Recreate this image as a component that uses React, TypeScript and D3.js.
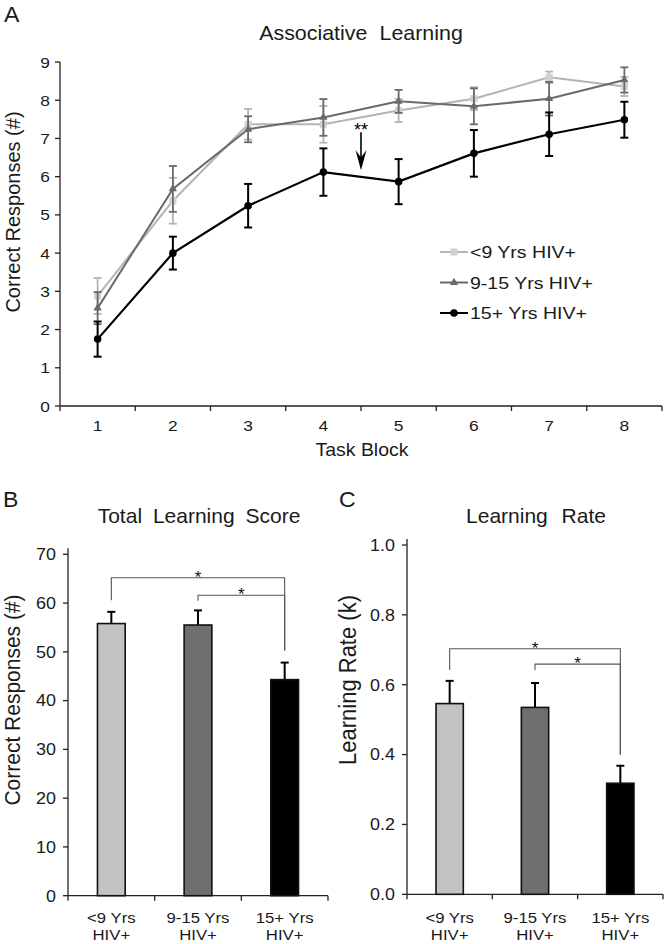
import React from 'react';
import * as d3 from 'd3';

const blocks = [1, 2, 3, 4, 5, 6, 7, 8];
const yTicksA = [0, 1, 2, 3, 4, 5, 6, 7, 8, 9];
const seriesNames = ['<9 Yrs HIV+', '9-15 Yrs HIV+', '15+ Yrs HIV+'];
const lt9Mean = [2.88, 5.37, 7.37, 7.37, 7.73, 8.04, 8.6, 8.36];
const lt9Err = [0.47, 0.6, 0.4, 0.48, 0.3, 0.3, 0.15, 0.25];
const midMean = [2.56, 5.68, 7.24, 7.55, 7.97, 7.84, 8.04, 8.53];
const midErr = [0.42, 0.6, 0.34, 0.48, 0.3, 0.47, 0.44, 0.33];
const hiMean = [1.75, 4.0, 5.24, 6.12, 5.87, 6.61, 7.11, 7.49];
const hiErr = [0.46, 0.43, 0.57, 0.62, 0.59, 0.61, 0.57, 0.47];

const groups = ['<9 Yrs|HIV+', '9-15 Yrs|HIV+', '15+ Yrs|HIV+'];
const totalScore = [55.8, 55.5, 44.3];
const totalErr = [2.4, 3.0, 3.5];
const yTicksB = [0, 10, 20, 30, 40, 50, 60, 70];
const learnRate = [0.546, 0.535, 0.318];
const rateErr = [0.065, 0.07, 0.05];
const yTicksC = [0, 0.2, 0.4, 0.6, 0.8, 1.0];

// brackets: [fromGroup, toGroup, barY, leftDrop, rightDrop]
const bracketsB: [number, number, number, number, number][] = [
  [0, 2, 65.2, 60.6, 50.3],
  [1, 2, 61.6, 60.5, 50.3],
];
const bracketsC: [number, number, number, number, number][] = [
  [0, 2, 0.703, 0.642, 0.4],
  [1, 2, 0.659, 0.642, 0.4],
];

const FONT = '"Liberation Sans", Arial, sans-serif';
const barFills = ['#c3c3c3', '#6f6f6f', '#000000'];
const lineColors = ['#b4b4b4', '#6a6a6a', '#000000'];
const markerFill = ['#d0d0d0', '#6a6a6a', '#000000'];
const TXT = '#1a1a1a';

function T(props: { x: number; y: number; size: number; sx?: number; anchor?: string; dy?: string; rot?: boolean; ws?: number; children: React.ReactNode }) {
  const { x, y, size, sx = 1.1, anchor = 'start', dy, rot, ws, children } = props;
  const tr = rot ? `translate(${x},${y}) rotate(-90) scale(1,${sx})` : `translate(${x},${y}) scale(${sx},1)`;
  return (
    <text transform={tr} fontSize={size} textAnchor={anchor} dy={dy} fill={TXT} wordSpacing={ws}>{children}</text>
  );
}

function Marker({ kind, x, y }: { kind: number; x: number; y: number }) {
  if (kind === 0) return <rect x={x - 3.5} y={y - 3.5} width={7} height={7} fill={markerFill[0]} />;
  if (kind === 1) {
    const p = d3.symbol(d3.symbolTriangle, 30)();
    return <path d={p || ''} transform={`translate(${x},${y})`} fill={markerFill[1]} />;
  }
  return <circle cx={x} cy={y} r={3.8} fill="#000" />;
}

function PanelA() {
  const x = d3.scaleBand<number>().domain(blocks).range([60, 662]);
  const y = d3.scaleLinear().domain([0, 9]).range([406, 62]);
  const cx = (b: number) => (x(b) as number) + x.bandwidth() / 2;
  const means = [lt9Mean, midMean, hiMean];
  const errs = [lt9Err, midErr, hiErr];
  const line = d3.line<number>().x((_, i) => cx(blocks[i])).y((d) => y(d));
  const arrowX = (x(5) as number);
  return (
    <g fontFamily={FONT}>
      <T x={4} y={22} size={22} sx={1.05}>A</T>
      <T x={361} y={40} size={21} sx={1.02} anchor="middle" ws={6}>Associative Learning</T>
      <line x1={60} x2={60} y1={62} y2={406} stroke="#222" strokeWidth={1.3} />
      <line x1={60} x2={662} y1={406} y2={406} stroke="#222" strokeWidth={1.3} />
      {yTicksA.map((t) => (
        <g key={t}>
          <line x1={55} x2={60} y1={y(t)} y2={y(t)} stroke="#222" strokeWidth={1.3} />
          <T x={50} y={y(t)} dy="0.36em" size={15.5} sx={1.12} anchor="end">{t}</T>
        </g>
      ))}
      {blocks.map((b) => (
        <g key={b}>
          <line x1={x(b)} x2={x(b)} y1={406} y2={411} stroke="#222" strokeWidth={1.3} />
          <T x={cx(b)} y={431} size={15.5} sx={1.12} anchor="middle">{b}</T>
        </g>
      ))}
      <line x1={662} x2={662} y1={406} y2={411} stroke="#222" strokeWidth={1.3} />
      <T x={362} y={456} size={18} sx={1.08} anchor="middle">Task Block</T>
      <T x={12} y={212} size={20} sx={1.05} rot anchor="middle" dy="0.36em">Correct Responses (#)</T>
      {means.map((m, s) => (
        <g key={s}>
          {m.map((v, i) => {
            const px = cx(blocks[i]);
            const e = errs[s][i];
            const sw = s === 2 ? 2 : 1.8;
            return (
              <g key={i} stroke={lineColors[s]} strokeWidth={sw}>
                <line x1={px} x2={px} y1={y(v - e)} y2={y(v + e)} />
                <line x1={px - 4} x2={px + 4} y1={y(v - e)} y2={y(v - e)} />
                <line x1={px - 4} x2={px + 4} y1={y(v + e)} y2={y(v + e)} />
              </g>
            );
          })}
          <path d={line(m) || ''} fill="none" stroke={lineColors[s]} strokeWidth={s === 2 ? 2.2 : 2} />
          {m.map((v, i) => <Marker key={i} kind={s} x={cx(blocks[i])} y={y(v)} />)}
        </g>
      ))}
      <text x={arrowX} y={y(7.33) + 10} fontSize={18} textAnchor="middle" fill="#000">**</text>
      <line x1={arrowX} x2={arrowX} y1={y(7.16)} y2={y(6.25)} stroke="#000" strokeWidth={1.6} />
      <path d={`M${arrowX - 5.5},${y(6.7)} L${arrowX},${y(6.17)} L${arrowX + 5.5},${y(6.7)} L${arrowX},${y(6.5)} Z`} fill="#000" />
      {seriesNames.map((n, s) => {
        const ly = 252 + s * 30.5;
        return (
          <g key={n}>
            <line x1={440} x2={468} y1={ly} y2={ly} stroke={lineColors[s]} strokeWidth={2} />
            <Marker kind={s} x={454} y={ly} />
            <T x={470} y={ly} dy="0.36em" size={17} sx={1.15}>{n}</T>
          </g>
        );
      })}
    </g>
  );
}

function BarPanel(props: {
  label: string; lx: number; title: string; tx: number; tws: number; x0: number; x1: number;
  yTop: number; yBot: number; domainMax: number; ticks: number[]; fmt: (v: number) => string;
  values: number[]; errs: number[]; brackets: [number, number, number, number, number][];
  ylabel: string; ylx: number; yly: number; ylsize: number;
}) {
  const { label, lx, title, tx, tws, x0, x1, yTop, yBot, domainMax, ticks, fmt, values, errs, brackets, ylabel, ylx, yly, ylsize } = props;
  const x = d3.scaleBand<string>().domain(groups).range([x0, x1]);
  const y = d3.scaleLinear().domain([0, domainMax]).range([yBot, yTop]);
  const cx = (g: string) => (x(g) as number) + x.bandwidth() / 2;
  const bw = x.bandwidth() * 0.32;
  return (
    <g fontFamily={FONT}>
      <T x={lx} y={507} size={22} sx={1.05}>{label}</T>
      <T x={tx} y={523} size={21} sx={1.0} anchor="middle" ws={tws}>{title}</T>
      <line x1={x0} x2={x0} y1={yTop - 6} y2={yBot} stroke="#222" strokeWidth={1.3} />
      <line x1={x0} x2={x1} y1={yBot} y2={yBot} stroke="#222" strokeWidth={1.3} />
      {ticks.map((t) => (
        <g key={t}>
          <line x1={x0 - 5} x2={x0} y1={y(t)} y2={y(t)} stroke="#222" strokeWidth={1.3} />
          <T x={x0 - 12} y={y(t)} dy="0.36em" size={16.3} sx={1.1} anchor="end">{fmt(t)}</T>
        </g>
      ))}
      {[...groups.map((g) => x(g) as number), x1].map((p, i) => (
        <line key={i} x1={p} x2={p} y1={yBot} y2={yBot + 5} stroke="#222" strokeWidth={1.3} />
      ))}
      {groups.map((g) => {
        const [l1, l2] = g.split('|');
        return (
          <g key={g}>
            <T x={cx(g)} y={923} size={15.5} sx={1.08} anchor="middle">{l1}</T>
            <T x={cx(g)} y={940} size={15.5} sx={1.08} anchor="middle">{l2}</T>
          </g>
        );
      })}
      <T x={ylx} y={yly} size={ylsize} sx={1.05} rot anchor="middle" dy="0.36em">{ylabel}</T>
      {groups.map((g, i) => {
        const v = values[i];
        const e = errs[i];
        return (
          <g key={g}>
            <line x1={cx(g)} x2={cx(g)} y1={y(v)} y2={y(v + e)} stroke="#000" strokeWidth={2} />
            <line x1={cx(g) - 4} x2={cx(g) + 4} y1={y(v + e)} y2={y(v + e)} stroke="#000" strokeWidth={2} />
            <rect x={cx(g) - bw / 2} y={y(v)} width={bw} height={yBot - y(v)} fill={barFills[i]} stroke="#111" strokeWidth={1.6} />
          </g>
        );
      })}
      {brackets.map(([a, b, by, ld, rd], i) => {
        const xa = cx(groups[a]);
        const xb = cx(groups[b]);
        return (
          <g key={i}>
            <path d={`M${xa},${y(ld)} V${y(by)} H${xb} V${y(rd)}`} fill="none" stroke="#555" strokeWidth={1.1} />
            <text x={(xa + xb) / 2} y={y(by) + 5} fontSize={17} textAnchor="middle" fill="#111">*</text>
          </g>
        );
      })}
    </g>
  );
}

export default function App() {
  return (
    <svg width={666} height={944} style={{ position: 'absolute', left: 0, top: 0, background: '#fff' }}>
      <rect width={666} height={944} fill="#fff" />
      <PanelA />
      <BarPanel label="B" lx={3} title="Total Learning Score" tx={199} tws={5} x0={68} x1={328} yTop={554.3} yBot={895.7}
        domainMax={70} ticks={yTicksB} fmt={(v) => String(v)} values={totalScore} errs={totalErr}
        brackets={bracketsB} ylabel="Correct Responses (#)" ylx={12} yly={700} ylsize={21} />
      <BarPanel label="C" lx={339} title="Learning Rate" tx={536} tws={8} x0={407} x1={663} yTop={545} yBot={894.3}
        domainMax={1} ticks={yTicksC} fmt={(v) => v.toFixed(1)} values={learnRate} errs={rateErr}
        brackets={bracketsC} ylabel="Learning Rate (k)" ylx={348} yly={680} ylsize={22} />
    </svg>
  );
}
